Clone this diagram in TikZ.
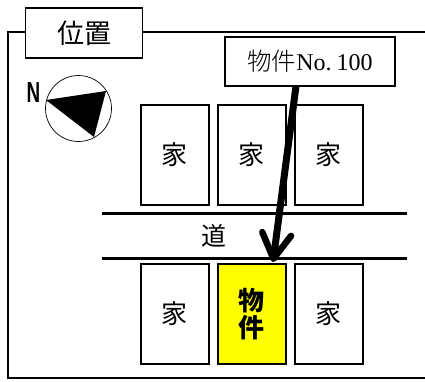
\documentclass[tikz,border=0pt]{standalone}
\usepackage{fontspec}
\setmainfont{Liberation Serif}
\setsansfont{Liberation Sans}
\newfontfamily\cjk{Noto Sans CJK JP}
\newfontfamily\cjklight{Noto Sans CJK JP Light}
\usetikzlibrary{arrows.meta}
\definecolor{siteyellow}{RGB}{255,255,0}
\begin{document}
\begin{tikzpicture}[x=1pt,y=1pt,node distance=77pt]
    \tikzstyle{block} = [rectangle, draw, line width=2pt, minimum width=68pt, minimum height=100pt, inner sep=0pt, font=\cjk\fontsize{26}{26}\selectfont]
    \tikzstyle{label} = [rectangle, draw, line width=1.5pt, fill=white, inner sep=0pt]
    \tikzstyle{frame} = [line width=2pt]
    \tikzstyle{road} = [line width=3pt]
    \tikzstyle{arrow} = [line width=7pt,-{Straight Barb[round,length=25pt,width=29pt,line width=6.5pt]}]
    \useasboundingbox (0,0) rectangle (425,381);

    \node (title) [label, minimum width=117pt, minimum height=50pt, font=\cjk\fontsize{27}{27}\selectfont] at (84,348) {位置};
    \coordinate (topleft) at (7.5,349);
    \coordinate (bottomleft) at (7.5,3);
    \coordinate (topright) at (425,349);
    \coordinate (bottomright) at (425,3);
    \draw [frame] (title.west |- topleft) -- (topleft) -- (bottomleft) -- (bottomright);
    \draw [frame] (title.east |- topright) -- (topright);

    % compass
    \node (compass) [circle, draw, line width=0.7pt, minimum size=66pt, inner sep=0pt] at (78.5,272.5) {};
    \fill (46,281) -- (106,290) -- (94,244) -- cycle;
    \node (north) [transform shape, xscale=0.65, font=\sffamily\bfseries\fontsize{29}{29}\selectfont, inner sep=0pt] at (33.5,288) {N};

    % houses
    \node (house1) [block] at (174.5,226) {家};
    \node (house2) [block, right of=house1] {家};
    \node (house3) [block, right of=house2] {家};
    \node (house4) [block, below of=house1, node distance=159pt] {家};
    \node (site) [block, right of=house4, fill=siteyellow, align=center, font=\cjk\bfseries\fontsize{26}{27}\selectfont] {物\\件};
    \node (house5) [block, right of=site] {家};

    % road
    \coordinate (roadA) at (102,167.5);
    \coordinate (roadB) at (407,167.5);
    \coordinate (roadC) at (102,123);
    \coordinate (roadD) at (407,123);
    \draw [road] (roadA) -- (roadB);
    \draw [road] (roadC) -- (roadD);
    \node (roadname) [font=\cjk\fontsize{25}{25}\selectfont, inner sep=0pt] at (214,145.5) {道};

    % tag
    \node (tag) [label, minimum width=170pt, minimum height=49pt, font=\fontsize{24}{24}\selectfont] at (310,319.5) {{\cjklight\fontsize{24.5}{24.5}\selectfont 物件}No.\hspace{5pt}100};
    \coordinate (tagfoot) at (296,295);
    \coordinate (tip) at (273,119);
    \draw [arrow] (tagfoot) -- (tip);
\end{tikzpicture}
\end{document}
